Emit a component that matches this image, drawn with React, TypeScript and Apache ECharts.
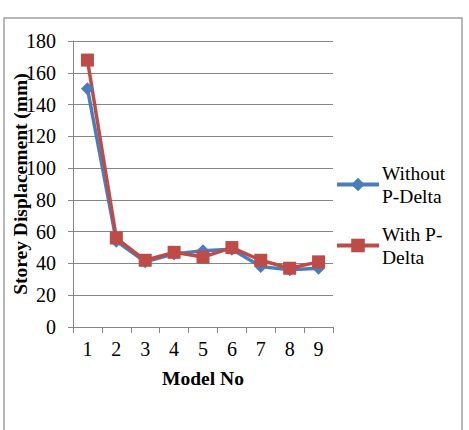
import React, { useEffect, useRef } from "react";
import * as echarts from "echarts";

const categories = ["1", "2", "3", "4", "5", "6", "7", "8", "9"];
const withoutPDelta = [150, 54, 41, 46, 48, 49, 38, 36, 37];
const withPDelta = [168, 56, 42, 47, 44, 50, 42, 37, 41];
const seriesNames = ["Without P-Delta", "With P-Delta"];
const legendLabels = ["Without\nP-Delta", "With P-\nDelta"];

const FONT = "'Liberation Serif', 'Times New Roman', serif";

export default function App() {
  const ref = useRef<HTMLDivElement>(null);
  useEffect(() => {
    document.body.style.margin = "0";
    const chart = echarts.init(ref.current!, undefined, { renderer: "svg" });
    const legendCommon = {
      orient: "vertical" as const,
      left: 335,
      padding: 0,
      itemWidth: 42,
      itemHeight: 17,
      lineStyle: { width: 4 },
      formatter: (name: string) => legendLabels[seriesNames.indexOf(name)],
      textStyle: {
        fontFamily: FONT,
        fontSize: 19.5,
        color: "#000",
        lineHeight: 23,
        padding: [23, 0, 0, -2],
      },
    };
    chart.setOption({
      animation: false,
      backgroundColor: "#fff",
      graphic: [
        {
          type: "rect",
          shape: { x: 4, y: 18, width: 458, height: 430 },
          style: { fill: "none", stroke: "#a0a0a0", lineWidth: 1.5 },
          silent: true,
        },
      ],
      legend: [
        { ...legendCommon, top: 150, data: [seriesNames[0]] },
        { ...legendCommon, top: 211, data: [seriesNames[1]] },
      ],
      grid: {
        left: 73,
        right: 136,
        top: 41,
        bottom: 103,
        containLabel: false,
        outerBoundsMode: "none",
      },
      xAxis: {
        type: "category",
        data: categories,
        boundaryGap: true,
        name: "Model No",
        nameLocation: "middle",
        nameGap: 41,
        nameMoveOverlap: false,
        nameTextStyle: { fontFamily: FONT, fontSize: 19.5, fontWeight: "bold", color: "#000" },
        axisLine: { lineStyle: { color: "#868686", width: 1 } },
        axisTick: { show: true, length: 6, lineStyle: { color: "#868686" } },
        axisLabel: { fontFamily: FONT, fontSize: 20, color: "#000", margin: 12 },
        splitLine: { show: false },
      },
      yAxis: {
        type: "value",
        min: 0,
        max: 180,
        interval: 20,
        name: "Storey Displacement (mm)",
        nameLocation: "middle",
        nameGap: 43,
        nameMoveOverlap: false,
        nameTextStyle: { fontFamily: FONT, fontSize: 19.5, fontWeight: "bold", color: "#000" },
        axisLine: { show: true, lineStyle: { color: "#868686", width: 1 } },
        axisTick: { show: true, length: 5, lineStyle: { color: "#868686" } },
        axisLabel: { fontFamily: FONT, fontSize: 20, color: "#000", margin: 17 },
        splitLine: { show: true, lineStyle: { color: "#868686", width: 1 } },
      },
      series: [
        {
          name: seriesNames[0],
          type: "line",
          data: withoutPDelta,
          symbol: "diamond",
          symbolSize: 13,
          itemStyle: { color: "#4a7ebb" },
          lineStyle: { color: "#4a7ebb", width: 3.5 },
        },
        {
          name: seriesNames[1],
          type: "line",
          data: withPDelta,
          symbol: "rect",
          symbolSize: 13,
          itemStyle: { color: "#be4b48" },
          lineStyle: { color: "#be4b48", width: 3.5 },
        },
      ],
    });
    return () => chart.dispose();
  }, []);
  return (
    <div
      ref={ref}
      style={{ position: "fixed", left: 0, top: 0, width: 469, height: 430 }}
    />
  );
}
